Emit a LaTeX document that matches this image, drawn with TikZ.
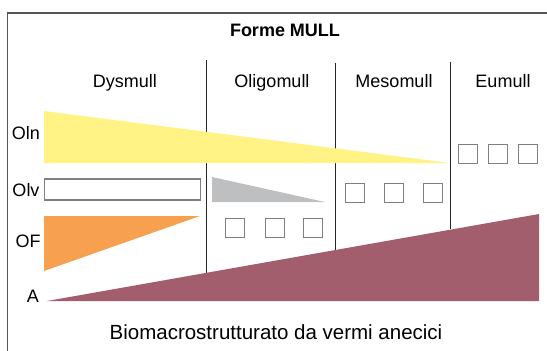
\documentclass[tikz,border=0pt]{standalone}
\usepackage{fontspec}
\setmainfont{Liberation Sans}
\usetikzlibrary{positioning}

\definecolor{olnyellow}{HTML}{FFF386}
\definecolor{oforange}{HTML}{F7A04F}
\definecolor{olvgray}{HTML}{BEBFC1}
\definecolor{amaroon}{HTML}{A35E6E}
\definecolor{cellgray}{HTML}{7F7F7F}
\definecolor{framegray}{HTML}{555555}

\tikzset{
  lab/.style={anchor=base, inner sep=0pt, font=\fontsize{18}{20}\selectfont},
  cell/.style={draw=cellgray, line width=1.3pt, minimum width=19pt, minimum height=19pt, inner sep=0pt, anchor=north west},
  divider/.style={draw=black!85, line width=1pt},
}

\begin{document}
\begin{tikzpicture}[x=1pt,y=-1pt]
\useasboundingbox (0,0) rectangle (547,351);

% frame
\draw[framegray, line width=1.2pt] (7.5,351) -- (7.5,13) -- (547,13);

% headings
\node[lab, font=\fontsize{18}{20}\selectfont\bfseries] (title) at (285,36.5) {Forme MULL};
\node[lab] (dysmull) at (125,87.5) {Dysmull};
\node[lab] (oligomull) at (272,87.5) {Oligomull};
\node[lab] (mesomull) at (394,87.5) {Mesomull};
\node[lab] (eumull) at (503,87.5) {Eumull};

% dividers
\draw[divider] (206.5,60) -- (206.5,273);
\draw[divider] (335,63) -- (335,250);
\draw[divider] (450.5,62) -- (450.5,229);

% horizons
\node[lab] (oln) at (26,139) {Oln};
\node[lab] (olv) at (26,196.5) {Olv};
\node[lab] (of) at (28,247.5) {OF};
\node[lab] (a) at (33,302.5) {A};

\fill[olnyellow] (44,111) -- (450,163) -- (44,163) -- cycle;
\draw[cellgray, line width=1.3pt, fill=white] (44.5,179) rectangle (200.5,200);
\fill[olvgray] (212,177) -- (325,202) -- (212,202) -- cycle;
\fill[oforange] (44,216) -- (200,216) -- (44,271) -- cycle;
\fill[amaroon] (47,301) -- (539,214) -- (539,301) -- cycle;

% cells
\foreach \x [count=\i] in {225,265,303}
  \node[cell] (sqo\i) at (\x,217.5) {};
\foreach \x [count=\i] in {345,384,423}
  \node[cell] (sqm\i) at (\x,183) {};
\foreach \x [count=\i] in {458,488,518}
  \node[cell] (sqe\i) at (\x,144) {};

\node[lab, font=\fontsize{20.5}{22}\selectfont] (caption) at (276,339) {Biomacrostrutturato da vermi anecici};
\end{tikzpicture}
\end{document}
